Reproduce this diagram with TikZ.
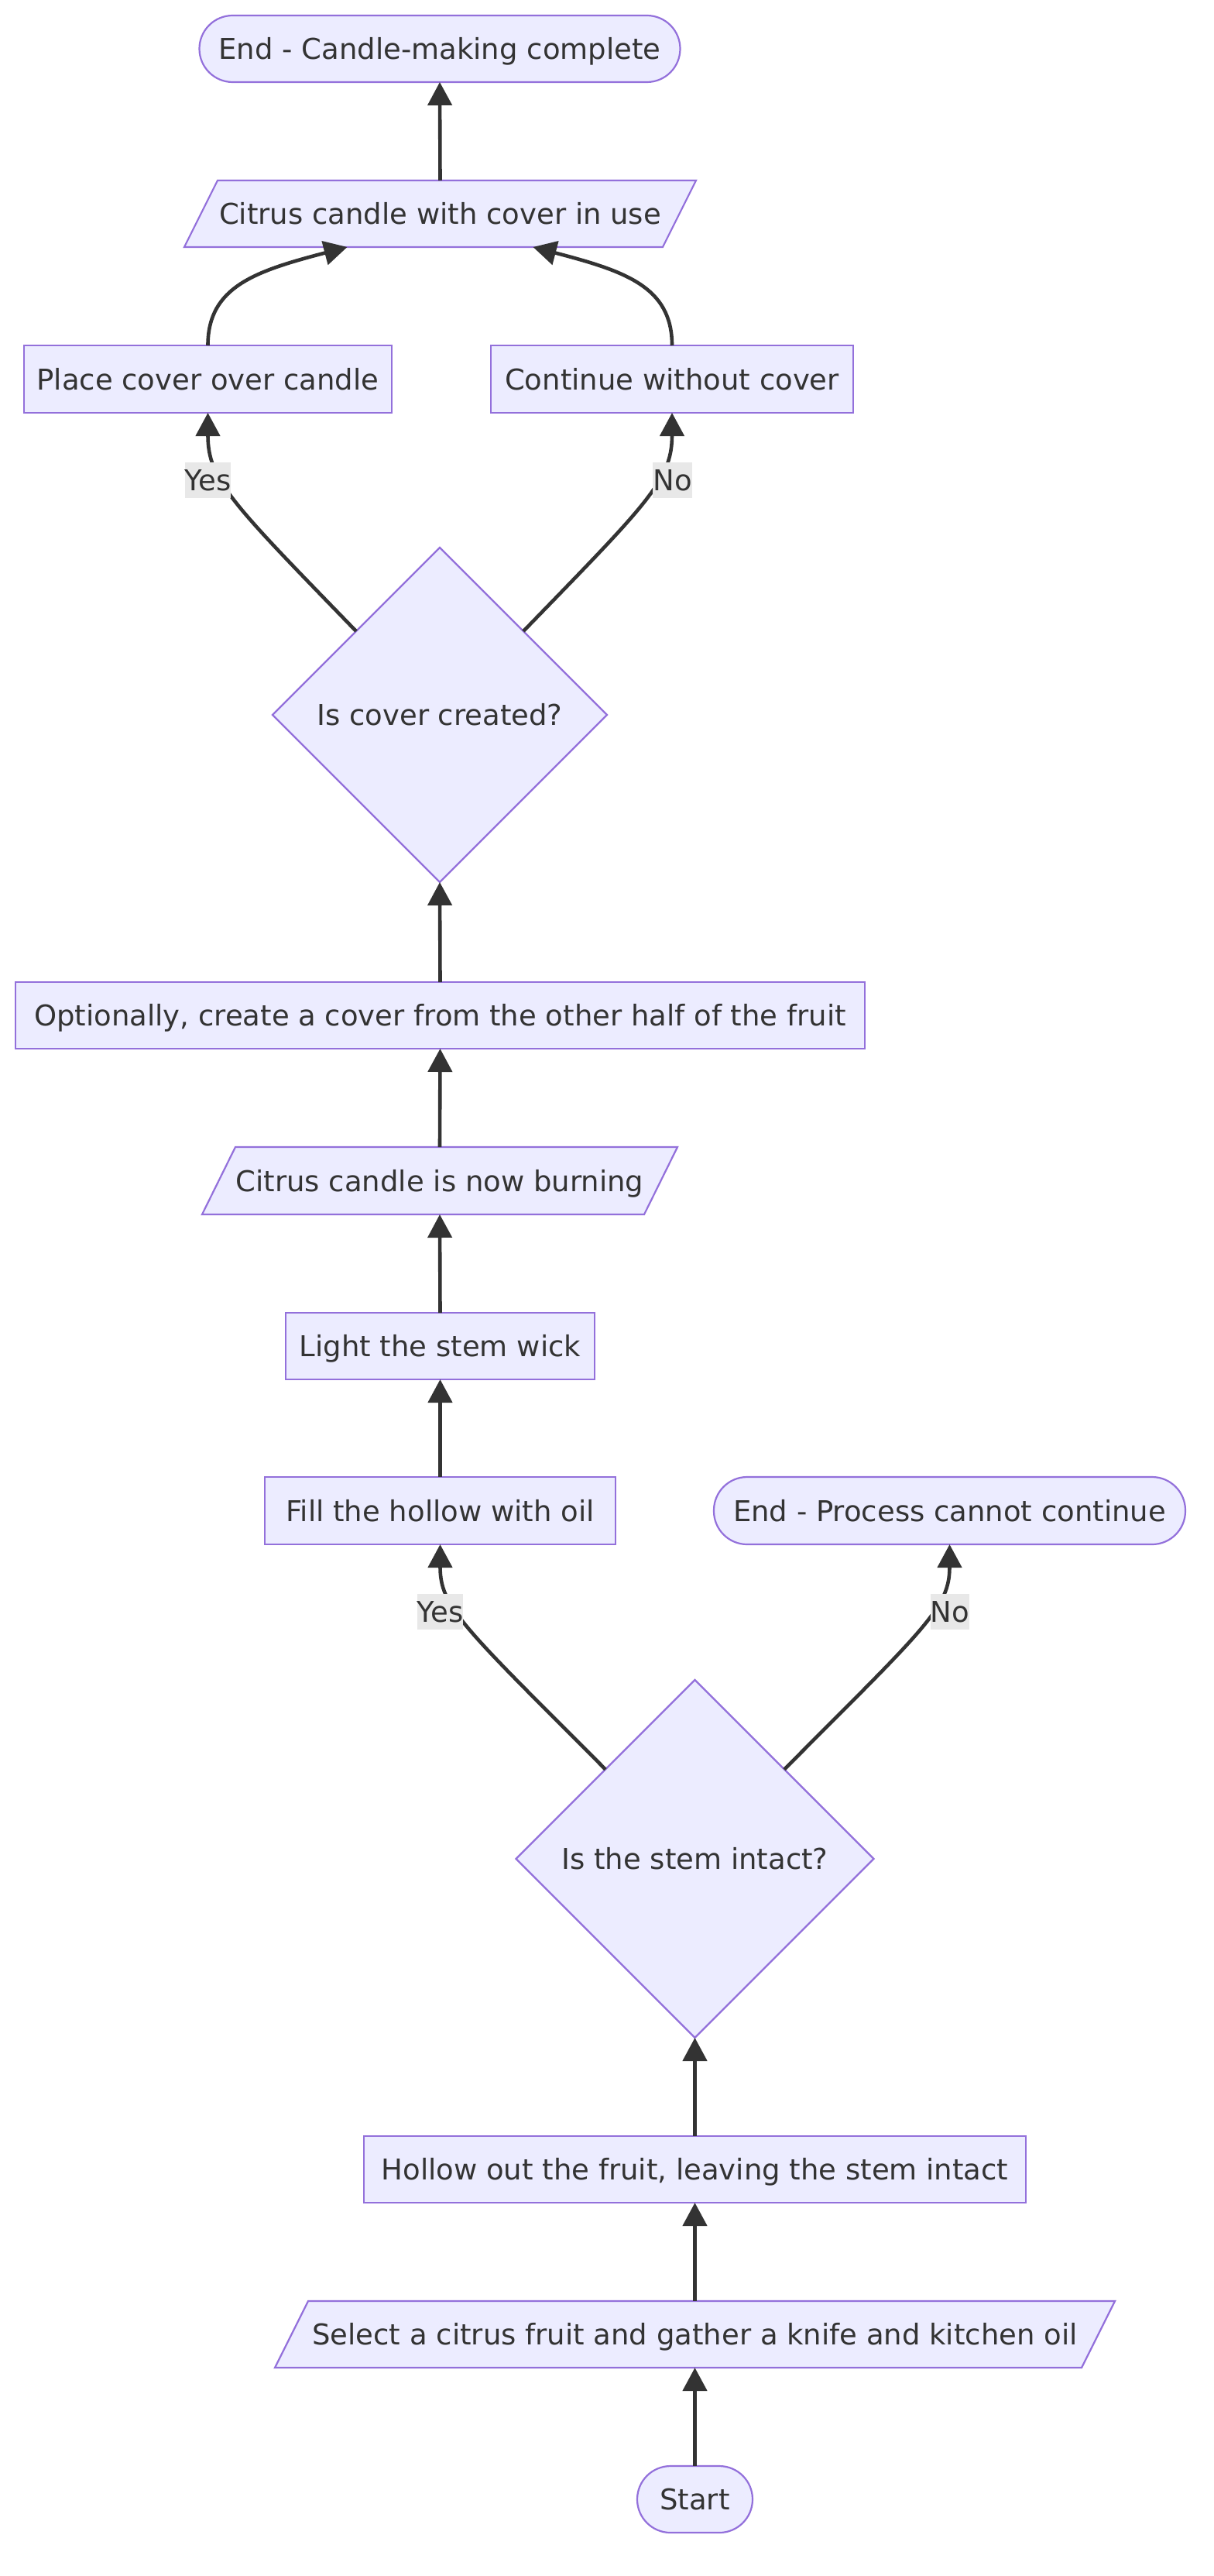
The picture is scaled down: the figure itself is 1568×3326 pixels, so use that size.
\documentclass[tikz,border=0pt]{standalone}
\usepackage{fontspec}
\setmainfont{DejaVu Sans}
\usetikzlibrary{shapes.geometric,arrows.meta,calc}
\definecolor{nodefill}{HTML}{ECECFF}
\definecolor{nodeline}{HTML}{9370DB}
\definecolor{ink}{HTML}{333333}
\definecolor{lblbg}{HTML}{E8E8E8}
\pgfdeclarelayer{bg}
\pgfsetlayers{bg,main}
\begin{document}
\begin{tikzpicture}[x=1pt,y=-1pt,
  base/.style={font=\fontsize{37}{44}\selectfont, text=ink, inner sep=0pt, outer sep=0pt, text height=27pt, text depth=0pt, align=center},
  box/.style={base, draw=nodeline, fill=nodefill, line width=2.2pt, rectangle},
  term/.style={box, rounded corners=43pt},
  para/.style={base},
  decide/.style={base, draw=nodeline, fill=nodefill, line width=2.2pt, diamond, aspect=1},
  lbl/.style={base, fill=lblbg, minimum height=46pt, inner xsep=0pt},
  flow/.style={draw=ink, line width=4.6pt, -{Triangle[length=30pt,width=31pt]}},
  parashape/.style={draw=nodeline, fill=nodefill, line width=2.2pt, line join=miter},
]
\useasboundingbox (0,0) rectangle (1568,3326);
\begin{pgfonlayer}{bg}
\fill[white] (0,0) rectangle (1568,3326);
\end{pgfonlayer}

% nodes
\node[term, minimum width=621pt, minimum height=86pt] (eok) at (568,63) {End - Candle-making complete};
\node[para, minimum width=661pt, minimum height=86pt] (cu) at (568.5,276) {Citrus candle with cover in use};
\node[box, minimum width=475pt, minimum height=87pt] (pc) at (268.5,489.5) {Place cover over candle};
\node[box, minimum width=468pt, minimum height=87pt] (cn) at (868,489.5) {Continue without cover};
\node[decide, minimum width=432pt, minimum height=432pt] (d1) at (568,923) {Is cover created?};
\node[box, minimum width=1097pt, minimum height=86pt] (opt) at (568.5,1311) {Optionally, create a cover from the other half of the fruit};
\node[para, minimum width=614pt, minimum height=87pt] (burn) at (568,1524.5) {Citrus candle is now burning};
\node[box, minimum width=399pt, minimum height=86pt] (wick) at (568.5,1738) {Light the stem wick};
\node[box, minimum width=453pt, minimum height=87pt] (fil) at (568.5,1950.5) {Fill the hollow with oil};
\node[term, minimum width=609pt, minimum height=87pt] (eno) at (1226.5,1950.5) {End - Process cannot continue};
\node[decide, minimum width=462pt, minimum height=462pt] (d2) at (897.5,2400) {Is the stem intact?};
\node[box, minimum width=855pt, minimum height=86pt] (hol) at (897.5,2801) {Hollow out the fruit, leaving the stem intact};
\node[para, minimum width=1085pt, minimum height=86pt] (sel) at (897.5,3014) {Select a citrus fruit and gather a knife and kitchen oil};
\node[term, minimum width=149pt, minimum height=86pt] (st) at (897.5,3227) {Start};

% parallelogram outlines
\begin{pgfonlayer}{bg}
\foreach \n in {cu,burn,sel}{
  \draw[parashape] ([xshift=43pt]\n.north west) -- (\n.north east) -- ([xshift=-43pt]\n.south east) -- (\n.south west) -- cycle;
}
\end{pgfonlayer}

% connectors
\draw[flow] (st.north) -- (sel.south);
\draw[flow] (sel.north) -- (hol.south);
\draw[flow] (hol.north) -- (d2.south);
\draw[flow] ($(d2.north)!0.5!(d2.west)$) .. controls (598,2100) and (568.5,2075) .. (fil.south);
\draw[flow] ($(d2.north)!0.5!(d2.east)$) .. controls (1197,2100) and (1226.5,2075) .. (eno.south);
\draw[flow] (fil.north) -- (wick.south);
\draw[flow] (wick.north) -- (burn.south);
\draw[flow] (burn.north) -- (opt.south);
\draw[flow] (opt.north) -- (d1.south);
\draw[flow] ($(d1.north)!0.5!(d1.west)$) .. controls (300,650) and (268.5,620) .. (pc.south);
\draw[flow] ($(d1.north)!0.5!(d1.east)$) .. controls (836,650) and (868,620) .. (cn.south);
\draw[flow] (pc.north) .. controls (268.5,370) and (330,350) .. ($(cu.south)+(-120,0)$);
\draw[flow] (cn.north) .. controls (868,370) and (807,350) .. ($(cu.south)+(120,0)$);
\draw[flow] (cu.north) -- (eok.south);

% edge labels
\node[lbl] (y1) at (268.5,620) {Yes};
\node[lbl] (n1) at (868.5,620) {No};
\node[lbl] (y2) at (568.5,2081) {Yes};
\node[lbl] (n2) at (1227,2081) {No};
\end{tikzpicture}
\end{document}
